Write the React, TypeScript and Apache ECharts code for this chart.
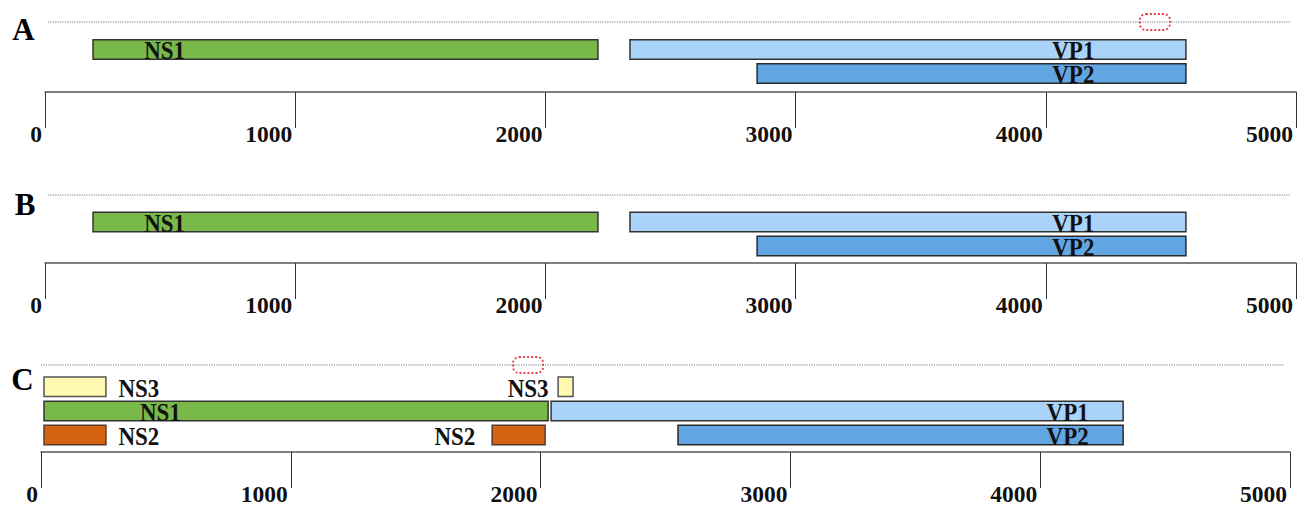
import React, { useEffect, useRef } from "react";
import * as echarts from "echarts";

// ---------- data ----------
const tickLabels = ["0", "1000", "2000", "3000", "4000", "5000"];
const panelLetters = ["A", "B", "C"];

// Panel A
const aNames = ["NS1", "VP1", "VP2"];
const aStart = [192, 2338, 2846];
const aEnd = [2210, 4560, 4560];
const aLane = [0, 0, 1];
const aLabelAt = [478, 4110, 4110];
const aMark = [4376, 4496];
const aGuide = [12, 4976];

// Panel B
const bNames = ["NS1", "VP1", "VP2"];
const bStart = [192, 2338, 2846];
const bEnd = [2210, 4560, 4560];
const bLane = [0, 0, 1];
const bLabelAt = [478, 4110, 4110];
const bGuide = [12, 4976];

// Panel C
const cNames = ["NS3", "NS3", "NS1", "VP1", "NS2", "NS2", "VP2"];
const cStart = [12, 2070, 12, 2042, 12, 1806, 2550];
const cEnd = [260, 2130, 2030, 4332, 260, 2018, 4332];
const cLane = [0, 0, 1, 1, 2, 2, 2];
const cLabelAt = [392, 1950, 478, 4110, 392, 1657, 4110];
const cMark = [1890, 2010];
const cGuide = [0, 4976];

// ---------- styles / layout ----------
const FILLS: Record<string, { fill: string; stroke: string }> = {
  NS1: { fill: "#79B94A", stroke: "#333333" },
  VP1: { fill: "#A9D3F8", stroke: "#333333" },
  VP2: { fill: "#62A5E3", stroke: "#2a2a2a" },
  NS3: { fill: "#FFF8B0", stroke: "#555555" },
  NS2: { fill: "#D66311", stroke: "#5a3b2e" },
};
const SERIF = '"Liberation Serif", "Times New Roman", serif';
const BAR_H = 19.5;

type Layout = { left: number; right: number; guide: number; lane0: number; step: number; axis: number; letterX: number; letterY: number };
const layouts: Layout[] = [
  { left: 45, right: 1296, guide: 22, lane0: 49.5, step: 24, axis: 92, letterX: 23.5, letterY: 29 },
  { left: 45, right: 1296, guide: 195, lane0: 222, step: 24, axis: 263, letterX: 25, letterY: 204 },
  { left: 41, right: 1290, guide: 365, lane0: 387.5, step: 25, axis: 455, letterX: 22.5, letterY: 379 },
];

function yRange(l: Layout) {
  const min = -(l.lane0 - l.guide) / l.step;
  const max = min + (l.axis - l.guide) / l.step;
  return { min, max };
}

function barSeries(g: number, names: string[], starts: number[], ends: number[], lanes: number[], labelAt: number[]) {
  return {
    type: "custom",
    xAxisIndex: g,
    yAxisIndex: g,
    clip: false,
    silent: true,
    data: starts.map((s, i) => [s, ends[i], lanes[i], labelAt[i]]),
    encode: { x: [0, 1, 3], y: 2 },
    renderItem: (params: any, api: any) => {
      const i = params.dataIndex;
      const name = names[i];
      const p0 = api.coord([api.value(0), api.value(2)]);
      const p1 = api.coord([api.value(1), api.value(2)]);
      const pl = api.coord([api.value(3), api.value(2)]);
      const st = FILLS[name];
      return {
        type: "group",
        children: [
          {
            type: "rect",
            shape: { x: p0[0], y: p0[1] - BAR_H / 2, width: p1[0] - p0[0], height: BAR_H },
            style: { fill: st.fill, stroke: st.stroke, lineWidth: 1.5 },
          },
          {
            type: "text",
            x: pl[0],
            y: pl[1] + 1,
            scaleX: 1,
            scaleY: 1.12,
            z2: 10,
            style: {
              text: name,
              fill: "#111",
              font: `bold 23px ${SERIF}`,
              align: "center",
              verticalAlign: "middle",
            },
          },
        ],
      };
    },
  };
}

function guideSeries(g: number, guide: number[], yv: number) {
  return {
    type: "line",
    xAxisIndex: g,
    yAxisIndex: g,
    clip: false,
    silent: true,
    symbol: "none",
    data: [
      [guide[0], yv],
      [guide[1], yv],
    ],
    lineStyle: { type: "dotted", color: "#6b7894", width: 1.2 },
  };
}

function markSeries(g: number, mark: number[], yv: number) {
  return {
    type: "custom",
    xAxisIndex: g,
    yAxisIndex: g,
    clip: false,
    silent: true,
    z: 5,
    data: [[mark[0], mark[1], yv]],
    encode: { x: [0, 1], y: 2 },
    renderItem: (_p: any, api: any) => {
      const p0 = api.coord([api.value(0), api.value(2)]);
      const p1 = api.coord([api.value(1), api.value(2)]);
      return {
        type: "rect",
        shape: { x: p0[0], y: p0[1] - 8, width: p1[0] - p0[0], height: 16, r: 6 },
        style: { fill: "rgba(255,255,255,0)", stroke: "#e63b42", lineWidth: 1.8, lineDash: [2, 2] },
      };
    },
  };
}

export default function App() {
  const ref = useRef<HTMLDivElement>(null);
  useEffect(() => {
    if (!ref.current) return;
    const chart = echarts.init(ref.current, undefined, { renderer: "svg" });
    const grids = layouts.map((l) => ({
      left: l.left,
      top: l.guide,
      width: l.right - l.left,
      height: l.axis - l.guide,
      containLabel: false,
    }));
    const xAxes = layouts.map((_, g) => ({
      type: "value",
      gridIndex: g,
      min: 0,
      max: 5000,
      interval: 1000,
      position: "bottom",
      axisLine: { show: true, onZero: false, lineStyle: { color: "#555", width: 1.5 } },
      axisTick: { show: true, length: 36, lineStyle: { color: "#333", width: 1 } },
      splitLine: { show: false },
      axisLabel: {
        show: true,
        margin: 42,
        align: "right",
        verticalAlign: "middle",
        padding: [0, 3, 0, 0],
        color: "#111",
        fontFamily: SERIF,
        fontWeight: "bold",
        fontSize: 23.5,
        showMinLabel: true,
        showMaxLabel: true,
        formatter: (v: number) => tickLabels[Math.round(v / 1000)] ?? String(v),
      },
    }));
    const ranges = layouts.map(yRange);
    const yAxes = layouts.map((_, g) => ({
      type: "value",
      gridIndex: g,
      min: ranges[g].min,
      max: ranges[g].max,
      inverse: true,
      show: false,
      splitLine: { show: false },
    }));
    const series: any[] = [
      guideSeries(0, aGuide, ranges[0].min),
      barSeries(0, aNames, aStart, aEnd, aLane, aLabelAt),
      markSeries(0, aMark, ranges[0].min),
      guideSeries(1, bGuide, ranges[1].min),
      barSeries(1, bNames, bStart, bEnd, bLane, bLabelAt),
      guideSeries(2, cGuide, ranges[2].min),
      barSeries(2, cNames, cStart, cEnd, cLane, cLabelAt),
      markSeries(2, cMark, ranges[2].min),
    ];
    const graphic = layouts.map((l, i) => ({
      type: "text",
      x: l.letterX,
      y: l.letterY,
      style: {
        text: panelLetters[i],
        fill: "#000",
        font: `bold 31px ${SERIF}`,
        align: "center",
        verticalAlign: "middle",
      },
    }));
    chart.setOption({
      animation: false,
      backgroundColor: "#ffffff",
      grid: grids,
      xAxis: xAxes,
      yAxis: yAxes,
      series,
      graphic,
    });
    return () => chart.dispose();
  }, []);
  return (
    <div
      ref={ref}
      style={{ position: "absolute", left: 0, top: 0, width: 1298, height: 506 }}
    />
  );
}
